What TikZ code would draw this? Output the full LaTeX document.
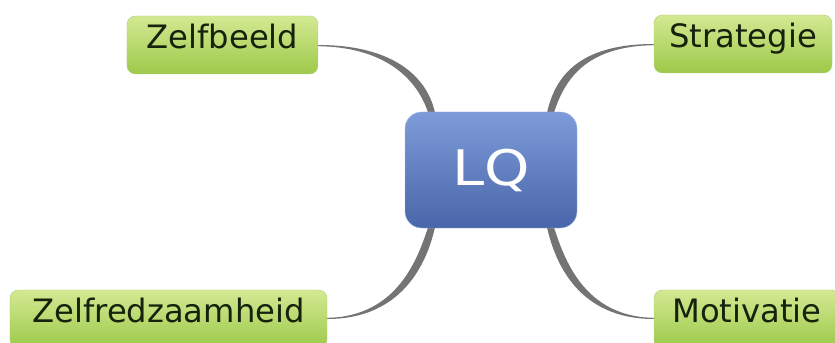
\documentclass[tikz,border=0pt]{standalone}
\usepackage{fontspec}
\setmainfont{DejaVu Sans}
\usepackage{xcolor}
\usetikzlibrary{positioning}
\usetikzlibrary{calc, backgrounds}
\definecolor{lqtop}{HTML}{7E9BD9}
\definecolor{lqbottom}{HTML}{4866A9}
\definecolor{leaftop}{HTML}{D3E992}
\definecolor{leafbottom}{HTML}{9DC94A}
\definecolor{leafborder}{HTML}{B4D184}
\definecolor{leaftext}{HTML}{17220C}
\definecolor{branch}{HTML}{747474}
\tikzset{
  leaf/.style={rounded corners=0.25cm, top color=leaftop, bottom color=leafbottom, draw=leafborder,
    minimum height=1.74cm, inner xsep=2pt, text=leaftext, text height=0.72em, text depth=0.2em,
    font=\fontsize{27.5}{30}\selectfont},
  centre/.style={rounded corners=0.5cm, top color=lqtop, bottom color=lqbottom, draw=lqtop!70!white,
    minimum width=5.16cm, minimum height=3.48cm, text=white, font=\fontsize{44}{48}\selectfont},
}

\begin{document}
\begin{tikzpicture}[x=0.03cm, y=-0.03cm]
\useasboundingbox (0,0) rectangle (835,343);
\node[centre] (lq) at (491,170) {\scalebox{1.12}[0.95]{LQ}};
\node[leaf, minimum width=5.73cm] (zelfbeeld) at (222.5,45) {Zelfbeeld};
\node[leaf, minimum width=5.34cm] (strategie) at (743,44) {Strategie};
\node[leaf, minimum width=9.51cm] (zelfred) at (168.5,319) {Zelfredzaamheid};
\node[leaf, minimum width=5.58cm] (motivatie) at (747,319) {Motivatie};

\begin{scope}[on background layer]
\fill[branch] (zelfbeeld.east) .. controls +(75,0) and +(-8,-35) .. ($(lq.north west)+(30,0)$)
  -- ($(lq.north west)+(23,0)$) .. controls +(-10,-30) and +(70,1) .. ($(zelfbeeld.east)+(0,1.2)$) -- cycle;
\fill[branch] (strategie.west) .. controls +(-75,0) and +(8,-35) .. ($(lq.north east)+(-30,0)$)
  -- ($(lq.north east)+(-23,0)$) .. controls +(10,-30) and +(-70,1) .. ($(strategie.west)+(0,1.2)$) -- cycle;
\fill[branch] ($(lq.south west)+(30,0)$) .. controls +(-8,35) and +(75,0) .. (zelfred.east)
  -- ($(zelfred.east)+(0,-1.2)$) .. controls +(70,-1) and +(-10,30) .. ($(lq.south west)+(23,0)$) -- cycle;
\fill[branch] ($(lq.south east)+(-30,0)$) .. controls +(8,35) and +(-75,0) .. (motivatie.west)
  -- ($(motivatie.west)+(0,-1.2)$) .. controls +(-70,-1) and +(10,30) .. ($(lq.south east)+(-23,0)$) -- cycle;
\end{scope}
\end{tikzpicture}
\end{document}
